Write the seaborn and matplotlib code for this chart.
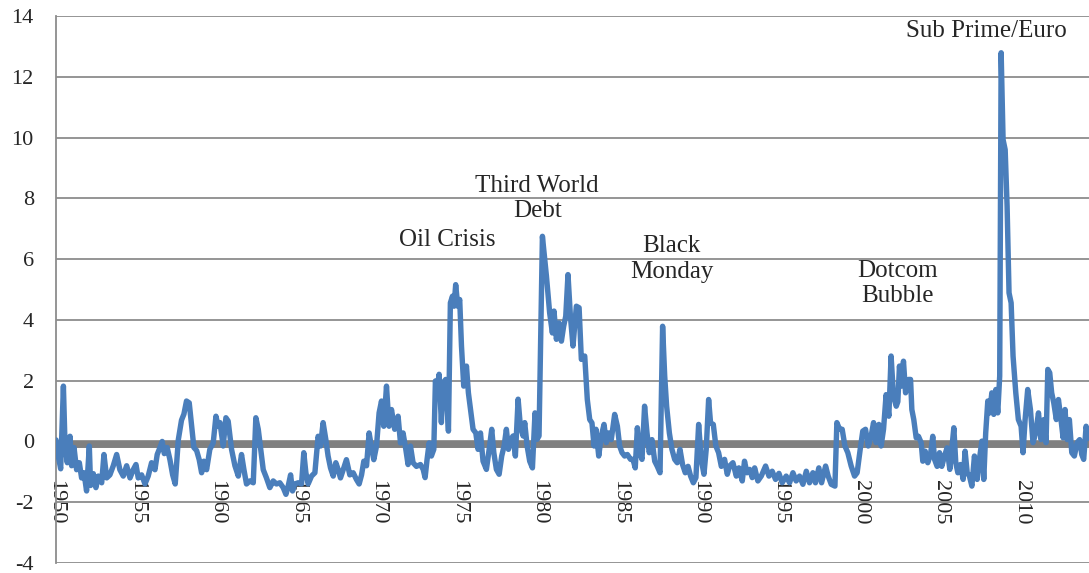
# %%
import numpy as np
import pandas as pd
import matplotlib.pyplot as plt
import seaborn as sns

sns.set_style('white')
plt.rcParams['font.family'] = ['Liberation Serif', 'DejaVu Serif']
plt.rcParams['axes.unicode_minus'] = False

# values (decimal year, index value)
years = [
    1950.00, 1950.14, 1950.29, 1950.46, 1950.56, 1950.70, 1950.87, 1950.97, 1951.12, 1951.28,
    1951.45, 1951.59, 1951.74, 1951.90, 1952.07, 1952.15, 1952.32, 1952.48, 1952.63, 1952.84,
    1952.98, 1953.15, 1953.35, 1953.56, 1953.77, 1953.97, 1954.18, 1954.39, 1954.60, 1954.80,
    1954.97, 1955.11, 1955.32, 1955.53, 1955.73, 1955.94, 1956.15, 1956.29, 1956.46, 1956.60,
    1956.73, 1956.91, 1957.08, 1957.25, 1957.41, 1957.60, 1957.80, 1957.95, 1958.11, 1958.28,
    1958.43, 1958.57, 1958.74, 1958.90, 1959.05, 1959.19, 1959.36, 1959.56, 1959.77, 1959.94,
    1960.08, 1960.19, 1960.39, 1960.56, 1960.70, 1960.91, 1961.12, 1961.33, 1961.53, 1961.68,
    1961.84, 1962.05, 1962.26, 1962.42, 1962.57, 1962.71, 1962.88, 1963.08, 1963.29, 1963.50,
    1963.70, 1963.91, 1964.12, 1964.29, 1964.43, 1964.58, 1964.70, 1964.84, 1965.05, 1965.26,
    1965.40, 1965.53, 1965.67, 1965.88, 1966.09, 1966.29, 1966.44, 1966.60, 1966.77, 1966.91,
    1967.06, 1967.23, 1967.39, 1967.54, 1967.68, 1967.85, 1968.05, 1968.26, 1968.47, 1968.67,
    1968.84, 1968.99, 1969.13, 1969.30, 1969.46, 1969.61, 1969.75, 1969.92, 1970.08, 1970.23,
    1970.37, 1970.54, 1970.70, 1970.85, 1971.05, 1971.26, 1971.41, 1971.57, 1971.74, 1971.88,
    1972.03, 1972.19, 1972.40, 1972.65, 1972.82, 1972.94, 1973.06, 1973.19, 1973.33, 1973.48,
    1973.58, 1973.68, 1973.81, 1973.95, 1974.06, 1974.22, 1974.39, 1974.51, 1974.64, 1974.74,
    1974.84, 1974.97, 1975.09, 1975.20, 1975.34, 1975.51, 1975.63, 1975.76, 1975.92, 1976.09,
    1976.23, 1976.38, 1976.54, 1976.75, 1976.92, 1977.08, 1977.21, 1977.37, 1977.54, 1977.70,
    1977.85, 1977.99, 1978.12, 1978.26, 1978.41, 1978.55, 1978.72, 1978.86, 1979.03, 1979.13,
    1979.28, 1979.44, 1979.61, 1979.77, 1979.90, 1980.02, 1980.23, 1980.48, 1980.68, 1980.85,
    1980.95, 1981.10, 1981.26, 1981.41, 1981.55, 1981.68, 1981.82, 1981.97, 1982.13, 1982.34,
    1982.51, 1982.65, 1982.86, 1983.02, 1983.17, 1983.31, 1983.44, 1983.56, 1983.73, 1983.89,
    1984.06, 1984.20, 1984.35, 1984.51, 1984.72, 1984.89, 1985.03, 1985.18, 1985.34, 1985.51,
    1985.71, 1985.86, 1986.00, 1986.13, 1986.27, 1986.42, 1986.58, 1986.73, 1986.87, 1987.04,
    1987.21, 1987.37, 1987.54, 1987.70, 1987.83, 1987.95, 1988.12, 1988.28, 1988.45, 1988.61,
    1988.78, 1988.94, 1989.11, 1989.28, 1989.44, 1989.61, 1989.77, 1989.94, 1990.10, 1990.27,
    1990.41, 1990.56, 1990.68, 1990.85, 1991.01, 1991.18, 1991.35, 1991.55, 1991.72, 1991.86,
    1992.07, 1992.28, 1992.44, 1992.65, 1992.79, 1992.94, 1993.11, 1993.27, 1993.42, 1993.62,
    1993.83, 1994.10, 1994.31, 1994.51, 1994.72, 1994.93, 1995.13, 1995.38, 1995.59, 1995.80,
    1996.00, 1996.21, 1996.42, 1996.63, 1996.83, 1997.04, 1997.20, 1997.41, 1997.58, 1997.83,
    1997.99, 1998.18, 1998.41, 1998.53, 1998.70, 1998.86, 1999.03, 1999.21, 1999.42, 1999.63,
    1999.79, 1999.98, 2000.14, 2000.31, 2000.48, 2000.64, 2000.81, 2000.97, 2001.14, 2001.28,
    2001.43, 2001.59, 2001.76, 2001.90, 2002.05, 2002.22, 2002.32, 2002.42, 2002.53, 2002.67,
    2002.80, 2002.98, 2003.11, 2003.19, 2003.31, 2003.46, 2003.60, 2003.77, 2003.87, 2004.02,
    2004.18, 2004.35, 2004.49, 2004.60, 2004.76, 2004.91, 2005.05, 2005.22, 2005.38, 2005.55,
    2005.67, 2005.80, 2005.92, 2006.05, 2006.21, 2006.38, 2006.50, 2006.63, 2006.77, 2006.92,
    2007.08, 2007.25, 2007.39, 2007.54, 2007.66, 2007.78, 2007.91, 2008.03, 2008.16, 2008.28,
    2008.41, 2008.53, 2008.65, 2008.74, 2008.86, 2008.99, 2009.11, 2009.23, 2009.36, 2009.48,
    2009.65, 2009.81, 2009.98, 2010.10, 2010.23, 2010.39, 2010.56, 2010.72, 2010.89, 2011.06,
    2011.22, 2011.39, 2011.53, 2011.64, 2011.76, 2011.88, 2012.01, 2012.17, 2012.30, 2012.46,
    2012.59, 2012.71, 2012.84, 2012.98, 2013.13, 2013.29, 2013.46, 2013.62, 2013.75, 2013.87,
    2014.02, 2014.16,
]
values = [
    0.05, -0.48, -0.90, 1.82, -0.10, -0.70, 0.17, -0.80, -0.20, -0.93,
    -0.70, -1.20, -1.03, -1.63, -0.15, -1.45, -1.06, -1.52, -1.14, -1.36,
    -0.43, -1.20, -1.10, -0.80, -0.43, -0.93, -1.14, -0.80, -1.20, -0.93,
    -0.76, -1.20, -1.10, -1.40, -1.14, -0.70, -0.93, -0.43, -0.20, 0.00,
    -0.40, -0.20, -0.60, -1.10, -1.40, 0.05, 0.70, 0.90, 1.33, 1.27,
    0.50, -0.20, -0.30, -0.60, -1.03, -0.65, -0.93, -0.26, -0.05, 0.83,
    0.50, 0.62, -0.15, 0.78, 0.67, -0.26, -0.80, -1.14, -0.43, -0.93,
    -1.40, -1.30, -1.36, 0.78, 0.40, -0.20, -0.93, -1.20, -1.52, -1.30,
    -1.40, -1.36, -1.52, -1.74, -1.47, -1.10, -1.63, -1.40, -1.36, -1.40,
    -0.37, -1.03, -1.40, -1.14, -1.03, 0.17, -0.15, 0.62, 0.06, -0.48,
    -0.87, -1.14, -0.70, -0.93, -1.20, -0.93, -0.60, -1.10, -1.03, -1.25,
    -1.40, -1.10, -0.65, -0.80, 0.28, -0.20, -0.60, -0.15, 0.94, 1.33,
    0.50, 1.82, 0.50, 1.05, 0.40, 0.83, -0.05, 0.28, -0.26, -0.76,
    -0.15, -0.70, -0.82, -0.76, -0.92, -1.19, -0.60, -0.05, -0.48, -0.26,
    1.99, 1.71, 2.21, 0.62, 1.93, 2.04, 0.34, 4.56, 4.78, 4.45,
    5.16, 4.45, 4.67, 3.14, 1.82, 2.48, 1.60, 1.06, 0.40, 0.28,
    -0.26, 0.28, -0.65, -0.92, -0.26, 0.40, -0.37, -0.92, -1.08, -0.48,
    -0.15, 0.40, -0.26, 0.07, 0.18, -0.48, 1.39, 0.50, 0.18, 0.62,
    -0.15, -0.65, -0.87, 0.94, 0.07, 0.18, 6.75, 5.44, 4.23, 3.57,
    4.29, 3.36, 3.90, 3.30, 3.79, 4.12, 5.49, 4.12, 3.14, 4.45,
    4.40, 2.70, 2.81, 1.38, 0.72, 0.61, -0.15, 0.40, -0.48, 0.18,
    0.56, -0.04, 0.28, 0.06, 0.89, 0.50, -0.15, -0.37, -0.48, -0.43,
    -0.59, -0.59, -0.87, 0.45, -0.37, -0.59, 1.16, 0.28, -0.37, 0.06,
    -0.65, -0.82, -1.03, 3.79, 2.15, 1.16, 0.28, -0.26, -0.59, -0.70,
    -0.26, -0.76, -1.03, -0.82, -1.14, -1.36, -1.19, 0.56, -0.59, -1.08,
    -0.26, 1.38, 0.61, 0.56, -0.15, -0.37, -0.82, -0.59, -1.08, -0.81,
    -0.70, -1.14, -0.87, -1.30, -0.65, -1.03, -0.92, -1.19, -0.87, -1.30,
    -1.14, -0.81, -1.14, -0.98, -1.25, -1.05, -1.36, -1.14, -1.36, -1.03,
    -1.30, -1.14, -1.41, -0.98, -1.36, -1.03, -1.36, -0.87, -1.36, -0.81,
    -1.14, -1.41, -1.47, 0.62, 0.40, 0.40, -0.15, -0.37, -0.81, -1.14,
    -1.03, -0.26, 0.34, 0.40, -0.15, 0.12, 0.62, -0.04, 0.56, -0.15,
    0.40, 1.54, 0.83, 2.81, 1.49, 1.16, 1.31, 2.48, 1.82, 2.64,
    1.60, 2.04, 2.04, 1.05, 0.72, 0.12, 0.17, -0.04, -0.65, -0.32,
    -0.70, -0.43, 0.17, -0.59, -0.82, -0.37, -0.82, -0.48, -0.21, -0.92,
    -0.26, 0.45, -0.70, -1.03, -0.76, -1.25, -0.32, -1.03, -1.14, -1.47,
    -0.48, -1.25, -0.59, 0.01, -1.25, 0.28, 1.33, 0.94, 1.60, 0.89,
    1.71, 0.94, 2.15, 12.79, 9.93, 9.60, 7.74, 4.89, 4.56, 2.81,
    1.60, 0.72, 0.50, -0.37, 0.72, 1.71, 1.05, -0.04, 0.28, 0.94,
    0.06, 0.72, -0.04, 2.37, 2.26, 1.60, 1.27, 0.72, 1.38, 0.72,
    0.12, 1.05, 0.06, 0.72, -0.37, -0.48, -0.04, 0.06, -0.43, -0.59,
    0.50, 0.10,
]

labels = ['Sub Prime/Euro', 'Third World\nDebt', 'Oil Crisis', 'Black\nMonday', 'Dotcom\nBubble']
label_x = [2007.8, 1979.9, 1974.3, 1988.25, 2002.3]
label_y = [13.5, 8.0, 6.64, 6.0, 5.2]

year_ticks = list(range(1950, 2011, 5))

df = pd.DataFrame({'year': years, 'value': values})

# %%
fig = plt.figure(figsize=(10.89, 5.73), dpi=100)
ax = fig.add_axes([56 / 1089, 10 / 573, 1 - 56 / 1089, 547 / 573])

sns.lineplot(data=df, x='year', y='value', color='#4A7EBB', linewidth=3.9,
             ax=ax, zorder=3)
ax.axhline(-0.1, color='#808080', linewidth=5, zorder=2)

ax.set_xlim(1950, 2014.2)
ax.set_ylim(-4, 14)
ax.set_yticks(range(-4, 15, 2))
ax.set_xticks(year_ticks)
ax.set_xlabel('')
ax.set_ylabel('')
ax.grid(axis='y', color='#8c8c8c', linewidth=1.3, zorder=1)
ax.set_axisbelow(True)

for s in ['top', 'right']:
    ax.spines[s].set_visible(False)
ax.spines['bottom'].set_position(('data', 0))
ax.spines['bottom'].set_visible(False)
ax.spines['left'].set_color('#8c8c8c')
ax.spines['left'].set_linewidth(1.3)

ax.tick_params(axis='x', labelrotation=-90, length=0, pad=28, labelsize=16)
ax.tick_params(axis='y', length=6, width=1.3, color='#8c8c8c', pad=10, labelsize=16)

for t, x, y in zip(labels, label_x, label_y):
    ax.text(x, y, t, ha='center', va='center', fontsize=18, linespacing=1.2)

fig.savefig('out.png', dpi=100)
